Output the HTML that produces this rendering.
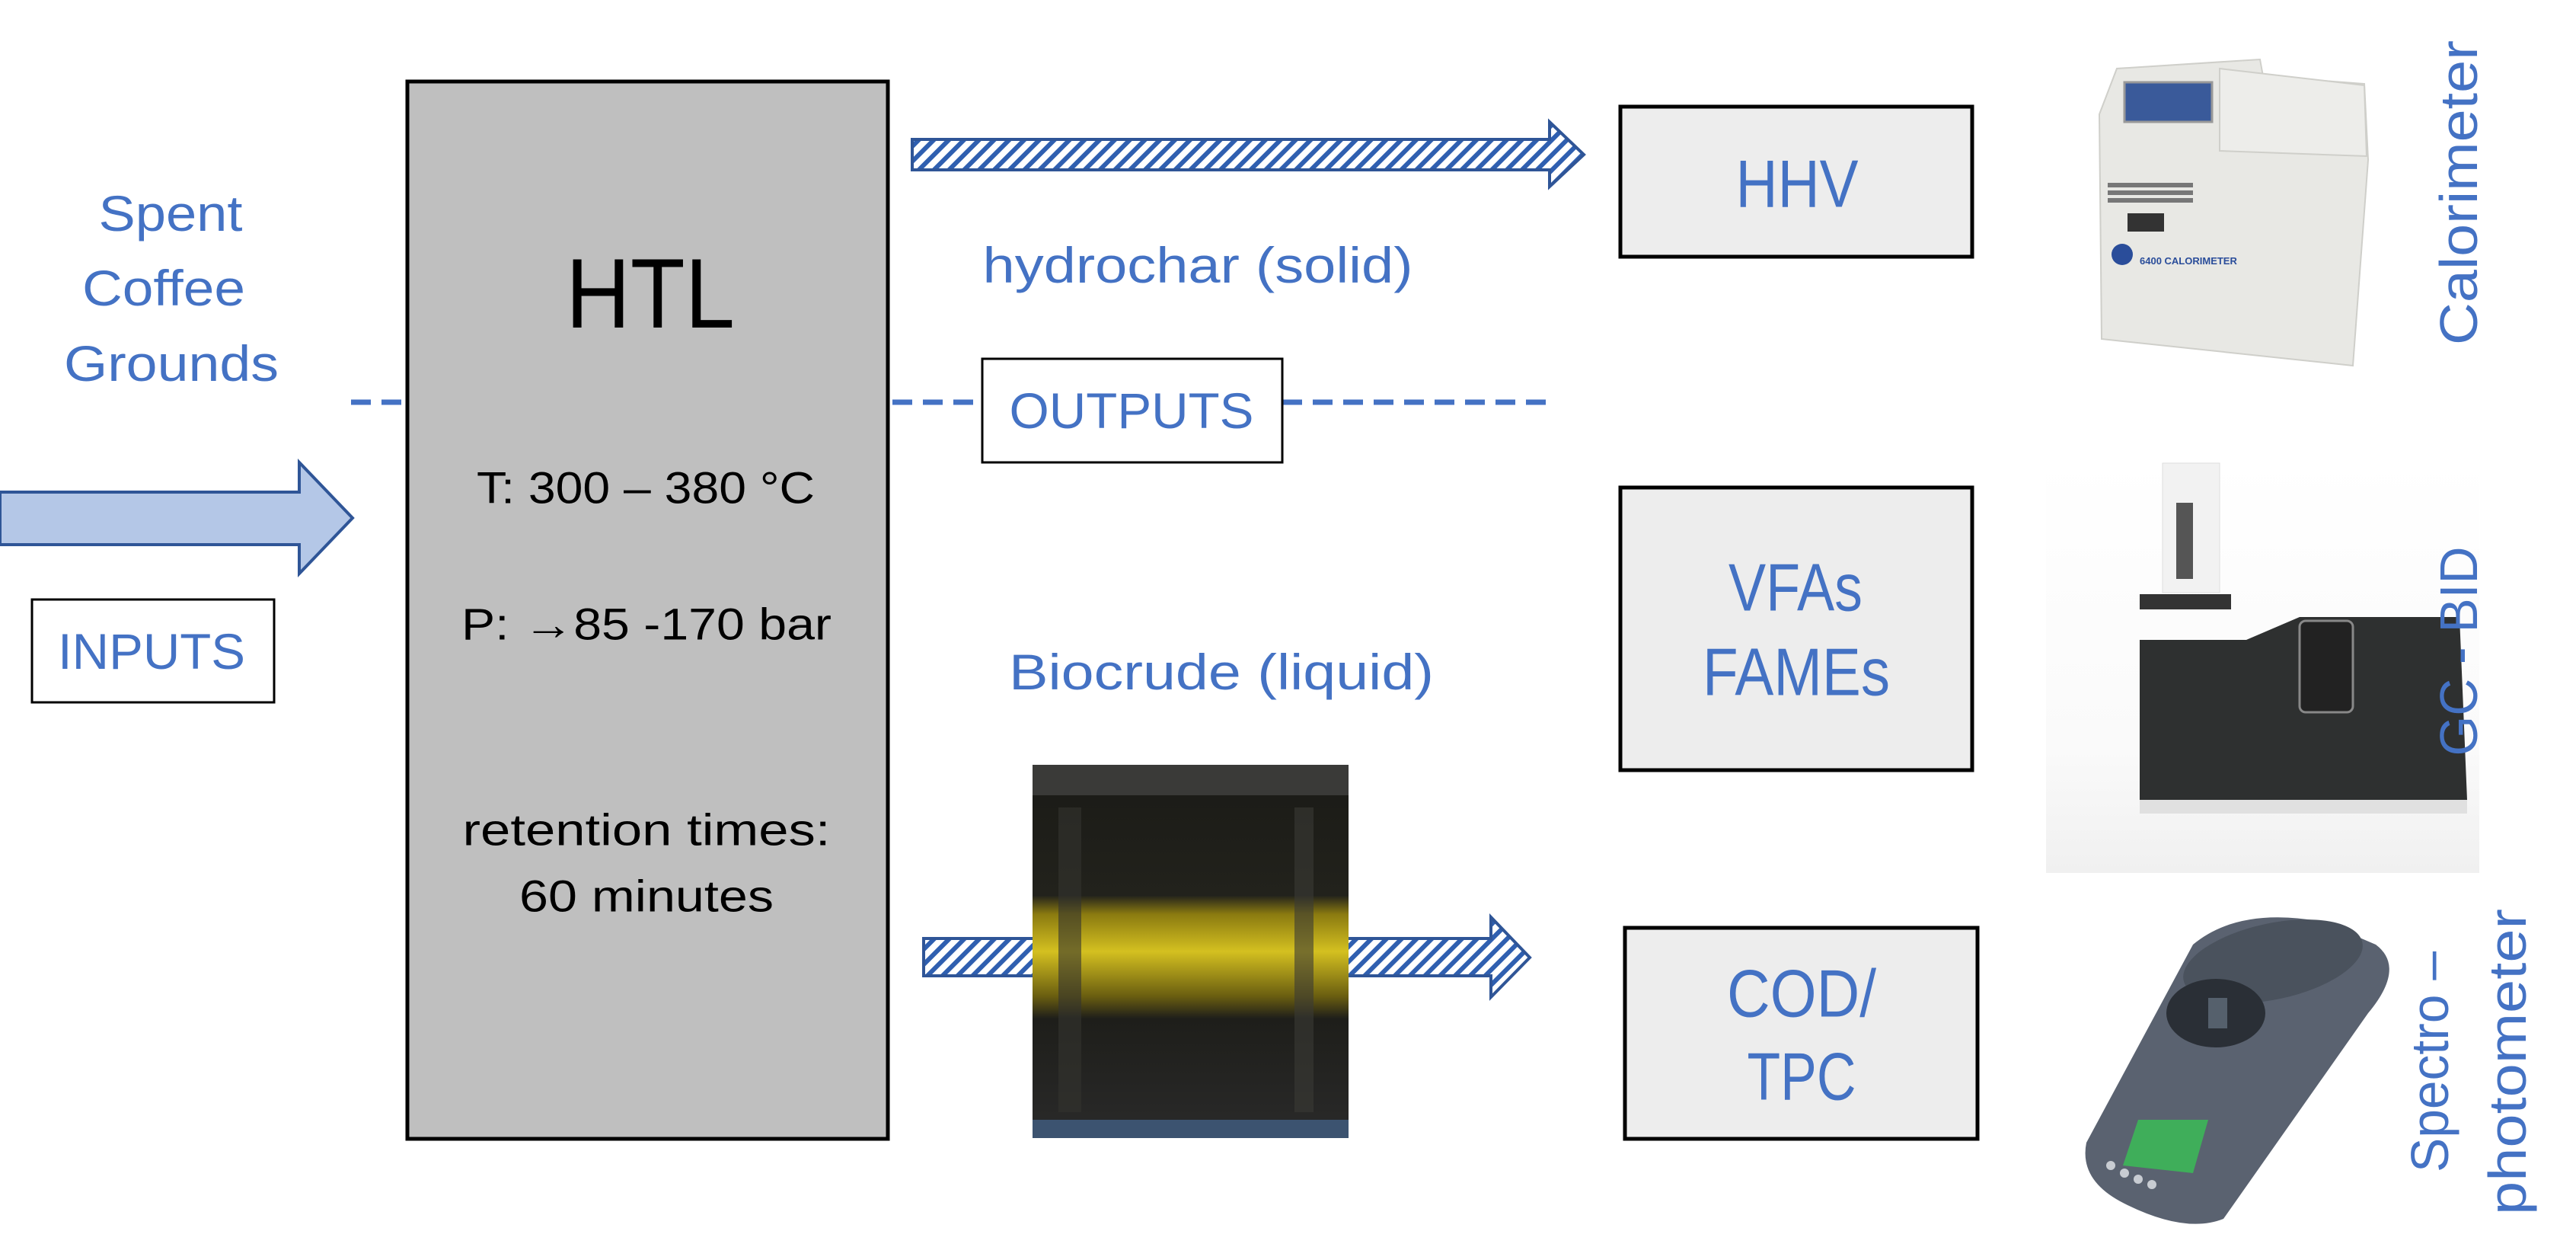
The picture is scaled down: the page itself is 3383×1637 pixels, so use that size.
<!DOCTYPE html>
<html><head><meta charset="utf-8"><style>
html,body{margin:0;padding:0;background:#fff;}
svg{display:block;}
text{font-family:"Liberation Sans",sans-serif;}
</style></head><body>
<svg width="3383" height="1637" viewBox="0 0 3383 1637" xmlns="http://www.w3.org/2000/svg">
<defs>
<pattern id="hat" patternUnits="userSpaceOnUse" width="14" height="14" patternTransform="rotate(45)">
<rect width="14" height="14" fill="#fff"/><rect width="6" height="14" fill="#2f5fb0"/>
</pattern>
<linearGradient id="band" x1="0" y1="0" x2="0" y2="1">
<stop offset="0" stop-color="#1a1a16"/><stop offset="0.35" stop-color="#22221c"/>
<stop offset="0.4" stop-color="#8a7a10"/><stop offset="0.5" stop-color="#d4c020"/><stop offset="0.62" stop-color="#6a5e10"/>
<stop offset="0.68" stop-color="#1e1e1a"/><stop offset="1" stop-color="#2a2a2a"/>
</linearGradient>
<linearGradient id="gcbg" x1="0" y1="0" x2="0" y2="1">
<stop offset="0" stop-color="#fff"/><stop offset="0.7" stop-color="#fafafa"/><stop offset="1" stop-color="#f0f0f0"/>
</linearGradient>
</defs>
<g fill="#4472c4" font-size="66" text-anchor="middle" dominant-baseline="central">
<text x="224" y="280" textLength="189" lengthAdjust="spacingAndGlyphs">Spent</text>
<text x="215" y="378" textLength="214" lengthAdjust="spacingAndGlyphs">Coffee</text>
<text x="225" y="477" textLength="282" lengthAdjust="spacingAndGlyphs">Grounds</text>
</g>
<line x1="461" y1="528" x2="533" y2="528" stroke="#4472c4" stroke-width="7" stroke-dasharray="26,14"/>
<polygon points="0,646 393,646 393,607 463,680 393,753 393,715 0,715" fill="#b4c7e7" stroke="#2f5597" stroke-width="4"/>
<rect x="42" y="787" width="318" height="135" fill="#fff" stroke="#000" stroke-width="3"/>
<text x="199" y="855" fill="#4472c4" font-size="66" text-anchor="middle" dominant-baseline="central" textLength="246" lengthAdjust="spacingAndGlyphs">INPUTS</text>
<rect x="535" y="107" width="631" height="1388" fill="#bfbfbf" stroke="#000" stroke-width="5"/>
<g fill="#000" text-anchor="middle" dominant-baseline="central">
<text x="854" y="385" font-size="130" textLength="222" lengthAdjust="spacingAndGlyphs">HTL</text>
<text x="848" y="641" font-size="58" textLength="444" lengthAdjust="spacingAndGlyphs">T: 300 – 380 °C</text>
<text x="849" y="820" font-size="58" textLength="486" lengthAdjust="spacingAndGlyphs">P: →85 -170 bar</text>
<text x="849" y="1090" font-size="58" textLength="483" lengthAdjust="spacingAndGlyphs">retention times:</text>
<text x="849" y="1177" font-size="58" textLength="334" lengthAdjust="spacingAndGlyphs">60 minutes</text>
</g>
<polygon points="1198,183 2035,183 2035,160 2080,203 2035,245 2035,223 1198,223" fill="url(#hat)" stroke="#2f5597" stroke-width="4"/>
<text x="1573" y="348" fill="#4472c4" font-size="66" text-anchor="middle" dominant-baseline="central" textLength="565" lengthAdjust="spacingAndGlyphs">hydrochar (solid)</text>
<line x1="1172" y1="528" x2="1290" y2="528" stroke="#4472c4" stroke-width="7" stroke-dasharray="26,14"/>
<line x1="1684" y1="528" x2="2039" y2="528" stroke="#4472c4" stroke-width="7" stroke-dasharray="26,14"/>
<rect x="1290" y="471" width="394" height="136" fill="#fff" stroke="#000" stroke-width="3"/>
<text x="1486" y="539" fill="#4472c4" font-size="66" text-anchor="middle" dominant-baseline="central" textLength="321" lengthAdjust="spacingAndGlyphs">OUTPUTS</text>
<text x="1604" y="882" fill="#4472c4" font-size="66" text-anchor="middle" dominant-baseline="central" textLength="558" lengthAdjust="spacingAndGlyphs">Biocrude (liquid)</text>
<polygon points="1213,1232 1958,1232 1958,1204 2009,1257 1958,1309 1958,1281 1213,1281" fill="url(#hat)" stroke="#2f5597" stroke-width="4"/>
<rect x="1356" y="1004" width="415" height="490" fill="url(#band)"/>
<rect x="1356" y="1004" width="415" height="40" fill="#3a3a38"/>
<rect x="1390" y="1060" width="30" height="400" fill="#33332e" opacity="0.6"/>
<rect x="1700" y="1060" width="25" height="400" fill="#3a3a35" opacity="0.6"/>
<rect x="1356" y="1470" width="415" height="24" fill="#4a6fa0" opacity="0.6"/>
<g stroke="#000" stroke-width="5" fill="#ededed">
<rect x="2128" y="140" width="462" height="197"/>
<rect x="2128" y="640" width="462" height="371"/>
<rect x="2134" y="1218" width="463" height="277"/>
</g>
<g fill="#4472c4" font-size="88" text-anchor="middle" dominant-baseline="central">
<text x="2360" y="241" textLength="161" lengthAdjust="spacingAndGlyphs">HHV</text>
<text x="2358" y="771" textLength="176" lengthAdjust="spacingAndGlyphs">VFAs</text>
<text x="2359" y="882" textLength="246" lengthAdjust="spacingAndGlyphs">FAMEs</text>
<text x="2366" y="1304" textLength="196" lengthAdjust="spacingAndGlyphs">COD/</text>
<text x="2366" y="1413" textLength="143" lengthAdjust="spacingAndGlyphs">TPC</text>
</g>
<!-- Calorimeter -->
<g>
<path d="M2757,150 L2780,90 L2968,78 L2972,100 L3105,110 L3110,210 L3090,480 L2760,445 Z" fill="#e8e8e4" stroke="#cfcfca" stroke-width="2"/>
<rect x="2790" y="108" width="115" height="52" fill="#3a5a9a" stroke="#999" stroke-width="3"/>
<path d="M2915,90 L3105,112 L3108,205 L2915,198 Z" fill="#ededea" stroke="#cfcfca" stroke-width="2"/>
<g fill="#777"><rect x="2768" y="240" width="112" height="6"/><rect x="2768" y="250" width="112" height="6"/><rect x="2768" y="260" width="112" height="6"/></g>
<rect x="2794" y="280" width="48" height="24" fill="#333"/>
<circle cx="2787" cy="334" r="14" fill="#2a4d9a"/>
<text x="2810" y="347" font-size="13" fill="#2a4d9a" font-weight="bold">6400 CALORIMETER</text>
</g>
<!-- GC -->
<g>
<rect x="2687" y="602" width="569" height="544" fill="url(#gcbg)"/>
<rect x="2840" y="608" width="75" height="170" fill="#f2f2f2" stroke="#ddd"/>
<rect x="2858" y="660" width="22" height="100" fill="#555"/>
<rect x="2810" y="780" width="120" height="20" fill="#333"/>
<path d="M2810,840 L2950,840 L3020,810 L3230,810 L3240,1050 L2810,1050 Z" fill="#2e3030"/>
<rect x="3020" y="815" width="70" height="120" rx="8" fill="#222" stroke="#888" stroke-width="3"/>
<rect x="2810" y="1050" width="430" height="18" fill="#e0e0e0"/>
</g>
<!-- Spectrophotometer -->
<g>
<path d="M2740,1500 L2880,1240 Q2940,1190 3050,1210 L3120,1240 Q3160,1270 3110,1330 L2920,1600 Q2870,1620 2790,1580 Q2730,1550 2740,1500 Z" fill="#5a6270"/>
<ellipse cx="2985" cy="1262" rx="120" ry="50" fill="#4a525d" transform="rotate(-12 2985 1262)"/>
<ellipse cx="2910" cy="1330" rx="65" ry="45" fill="#2a2f36"/>
<rect x="2900" y="1310" width="25" height="40" fill="#55606c"/>
<path d="M2808,1470 L2900,1470 L2880,1540 L2788,1530 Z" fill="#3fae5a"/>
<g fill="#c8ccd2"><circle cx="2772" cy="1530" r="6"/><circle cx="2790" cy="1540" r="6"/><circle cx="2808" cy="1548" r="6"/><circle cx="2826" cy="1555" r="6"/></g>
</g>
<g fill="#4472c4" font-size="70" text-anchor="middle" dominant-baseline="central">
<text transform="translate(3229,253) rotate(-90)" textLength="400" lengthAdjust="spacingAndGlyphs">Calorimeter</text>
<text transform="translate(3229,855) rotate(-90)" textLength="275" lengthAdjust="spacingAndGlyphs">GC - BID</text>
<text transform="translate(3191,1394) rotate(-90)" textLength="290" lengthAdjust="spacingAndGlyphs">Spectro –</text>
<text transform="translate(3293,1394) rotate(-90)" textLength="402" lengthAdjust="spacingAndGlyphs">photometer</text>
</g>
</svg>
</body></html>
